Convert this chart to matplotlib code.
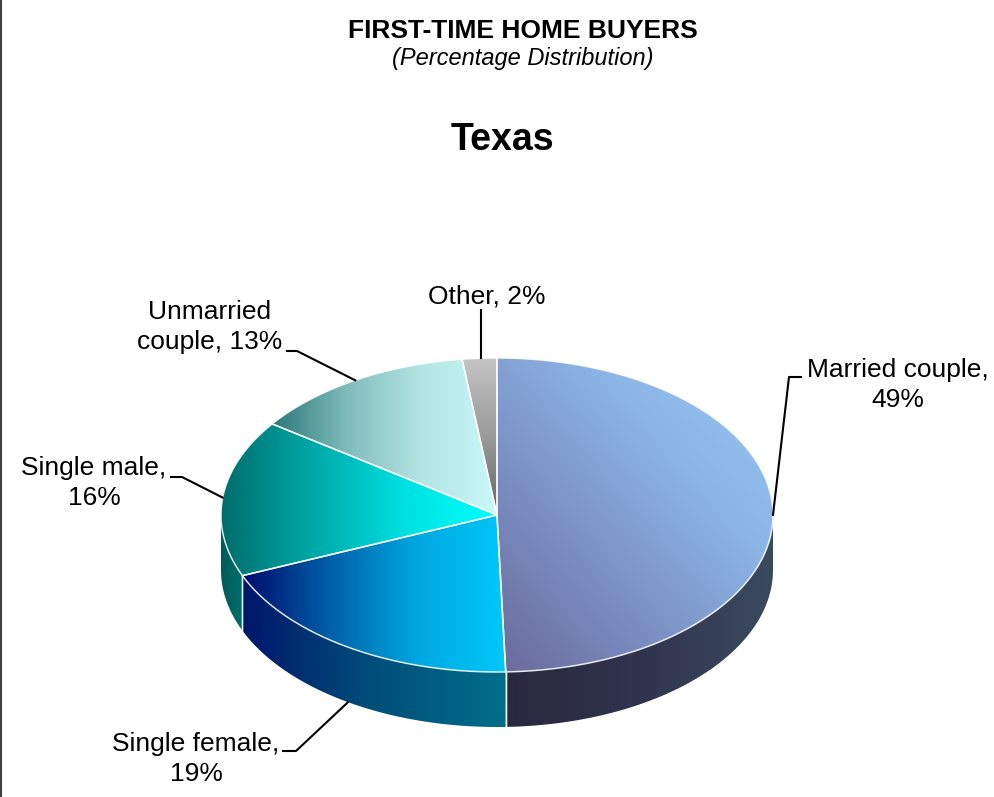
import numpy as np
from matplotlib import pyplot as plt
from matplotlib.colors import LinearSegmentedColormap
from matplotlib.patches import Polygon

plt.rcParams['font.family'] = ['Liberation Sans', 'DejaVu Sans']

# chart data
categories = ['Married couple', 'Single female', 'Single male', 'Unmarried couple', 'Other']
shares = [49, 19, 16, 13, 2]
label_texts = ['Married couple,\n49%', 'Single female,\n19%', 'Single male,\n16%',
               'Unmarried\ncouple, 13%', 'Other, 2%']

# gradient colours per slice (top face, side wall)
top_colors = [['#6a6a9a', '#7b8fc2', '#8cb4e6', '#98c6f2'],
              ['#000c6c', '#0060a8', '#00a8e0', '#00c8f8'],
              ['#006c6c', '#00a8a8', '#00e0e0', '#00ffff'],
              ['#2c7878', '#80bcbc', '#b4e4e4', '#c8f8f8'],
              ['#c4c4c4', '#9a9a9a', '#666666']]
top_dirs = ['diag', 'h', 'h', 'h', 'v']
side_colors = [['#29283e', '#30344c', '#3b4b5f'],
               ['#00166a', '#004f7a', '#006e8a'],
               ['#005a5a', '#006e6e'],
               ['#2c7878', '#2c7878'],
               ['#666666', '#666666']]

# layout (pixel space)
cx, cy = 497, 515
rx, ry = 276, 157
depth = 55
label_pos = [(898, 385), (196, 759), (94, 483), (210, 327), (487, 296)]
leader_knee = [(789, 377), (296, 751), (182, 477), (297, 351), (481, 310)]
leader_start = [(801, 377), (283, 751), (171, 477), (287, 351), (481, 310)]


def pt(t, dy=0.0):
    r = np.radians(t)
    return cx + rx * np.sin(r), cy - ry * np.cos(r) + dy


def grad_fill(ax, verts, colors, direction, z):
    patch = Polygon(verts, closed=True, facecolor='none', edgecolor='none')
    ax.add_patch(patch)
    xs, ys = verts[:, 0], verts[:, 1]
    x0, x1, y0, y1 = xs.min(), xs.max(), ys.min(), ys.max()
    n = 256
    if direction == 'h':
        arr = np.tile(np.linspace(0, 1, n), (2, 1))
    elif direction == 'v':
        arr = np.tile(np.linspace(0, 1, n)[:, None], (1, 2))
    else:
        X, Y = np.meshgrid(np.linspace(0, 1, n), np.linspace(0, 1, n))
        arr = (X + (1 - Y)) / 2
    cmap = LinearSegmentedColormap.from_list('g', colors)
    im = ax.imshow(arr, cmap=cmap, extent=(x0, x1, y1, y0), origin='upper',
                   aspect='auto', interpolation='bilinear', zorder=z)
    im.set_clip_path(patch)


fig = plt.figure(figsize=(9.95, 7.97), dpi=100)
ax = fig.add_axes([0, 0, 1, 1])

fracs = np.array(shares) / np.sum(shares)
bounds = np.concatenate([[0], np.cumsum(fracs) * 360])

# side walls (front half only)
for i in range(len(shares)):
    a0, a1 = max(bounds[i], 90), min(bounds[i + 1], 270)
    if a1 <= a0:
        continue
    ts = np.linspace(a0, a1, 120)
    top = np.array([pt(t) for t in ts])
    bot = np.array([pt(t, depth) for t in ts[::-1]])
    verts = np.vstack([top, bot])
    grad_fill(ax, verts, side_colors[i], 'h', 1)
    for a in (a0, a1):
        if 90 < a < 270:
            (xa, ya), (xb, yb) = pt(a), pt(a, depth)
            ax.plot([xa, xb], [ya, yb], color='white', lw=1, alpha=0.8, zorder=3)

# top faces
for i in range(len(shares)):
    ts = np.linspace(bounds[i], bounds[i + 1], 200)
    arc = np.array([pt(t) for t in ts])
    verts = np.vstack([[cx, cy], arc])
    grad_fill(ax, verts, top_colors[i], top_dirs[i], 2)
    ax.add_patch(Polygon(verts, closed=True, facecolor='none', edgecolor='white',
                         lw=1.1, alpha=0.85, zorder=3))

# labels and leader lines
for i, txt in enumerate(label_texts):
    mid = (bounds[i] + bounds[i + 1]) / 2
    ax.text(label_pos[i][0], label_pos[i][1], txt, ha='center', va='center',
            fontsize=19, linespacing=1.3, zorder=5)
    if i == 1:
        # leader lands on the lower wall edge
        ex = leader_knee[i][0] + 52
        xs = np.linspace(cx - rx, cx + rx, 2000)
        yb = cy + depth + ry * np.sqrt(np.clip(1 - ((xs - cx) / rx) ** 2, 0, 1))
        j = np.argmin(np.abs(xs - ex))
        end = (xs[j], yb[j])
    elif i == 0:
        end = pt(90)
    elif i == 4:
        end = (leader_knee[i][0], pt(mid)[1])
    else:
        end = pt(mid)
    sx, sy = leader_start[i]
    kx, ky = leader_knee[i]
    ax.plot([sx, kx, end[0]], [sy, ky, end[1]], color='black', lw=1.5, zorder=4)

# titles
ax.text(523, 31, 'FIRST-TIME HOME BUYERS', ha='center', va='center',
        fontsize=19, fontweight='bold')
ax.text(523, 58, '(Percentage Distribution)', ha='center', va='center',
        fontsize=17, style='italic')
ax.text(502, 140, 'Texas', ha='center', va='center', fontsize=27, fontweight='bold')

ax.plot([1, 1], [0, 797], color='#404040', lw=1.5)

ax.set_xlim(0, 995)
ax.set_ylim(797, 0)
ax.axis('off')

fig.savefig('out.png', dpi=100)
